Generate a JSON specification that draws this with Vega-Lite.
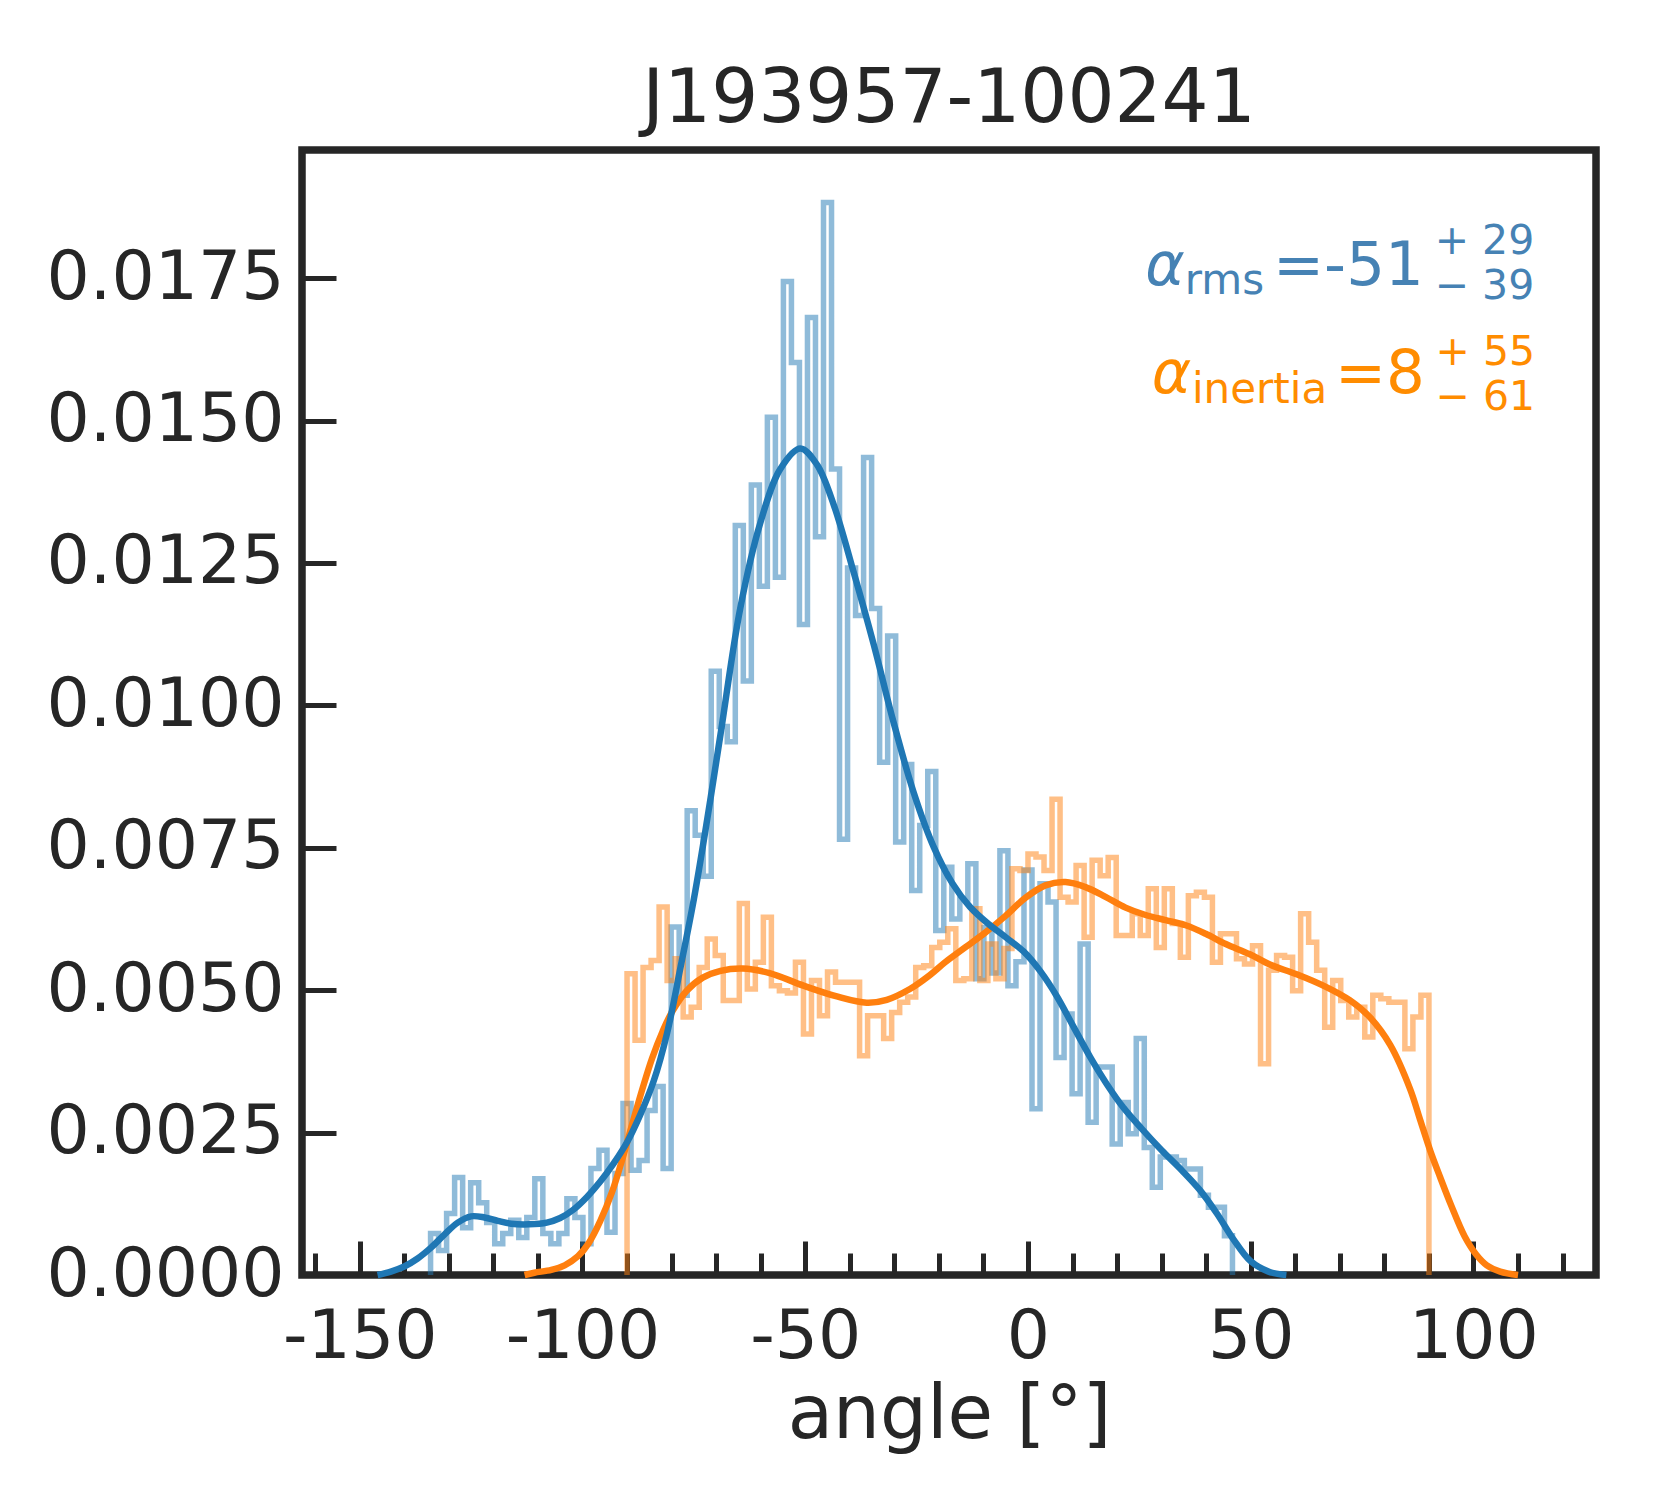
{
  "$schema": "https://vega.github.io/schema/vega-lite/v6.json",
  "width": 1294,
  "height": 1125,
  "autosize": {"type": "none"},
  "padding": {"left": 302, "top": 150, "right": 84, "bottom": 225},
  "background": "white",
  "config": {
    "font": "DejaVu Sans",
    "view": {"stroke": "#262626", "strokeWidth": 7.5}
  },
  "title": {
    "text": "J193957-100241",
    "fontSize": 74,
    "fontWeight": "normal",
    "color": "#262626",
    "anchor": "middle",
    "offset": 12
  },
  "datasets": {
    "hist": [
      {"series": "rms", "angle": -134.1, "density": 0},
      {"series": "rms", "angle": -134.1, "density": 0.00073},
      {"series": "rms", "angle": -132.3, "density": 0.00043},
      {"series": "rms", "angle": -130.5, "density": 0.00108},
      {"series": "rms", "angle": -128.7, "density": 0.00171},
      {"series": "rms", "angle": -126.9, "density": 0.00083},
      {"series": "rms", "angle": -125.1, "density": 0.00162},
      {"series": "rms", "angle": -123.3, "density": 0.00127},
      {"series": "rms", "angle": -121.5, "density": 0.00092},
      {"series": "rms", "angle": -119.7, "density": 0.00055},
      {"series": "rms", "angle": -117.9, "density": 0.00073},
      {"series": "rms", "angle": -116.1, "density": 0.00096},
      {"series": "rms", "angle": -114.3, "density": 0.00066},
      {"series": "rms", "angle": -112.5, "density": 0.00101},
      {"series": "rms", "angle": -110.7, "density": 0.00169},
      {"series": "rms", "angle": -108.9, "density": 0.00073},
      {"series": "rms", "angle": -107.1, "density": 0.00055},
      {"series": "rms", "angle": -105.3, "density": 0.00073},
      {"series": "rms", "angle": -103.5, "density": 0.00134},
      {"series": "rms", "angle": -101.7, "density": 0.00101},
      {"series": "rms", "angle": -99.9, "density": 0.00055},
      {"series": "rms", "angle": -98.1, "density": 0.00187},
      {"series": "rms", "angle": -96.3, "density": 0.00219},
      {"series": "rms", "angle": -94.5, "density": 0.00075},
      {"series": "rms", "angle": -92.7, "density": 0.00178},
      {"series": "rms", "angle": -90.9, "density": 0.00301},
      {"series": "rms", "angle": -89.1, "density": 0.00184},
      {"series": "rms", "angle": -87.3, "density": 0.00201},
      {"series": "rms", "angle": -85.5, "density": 0.00289},
      {"series": "rms", "angle": -83.7, "density": 0.00331},
      {"series": "rms", "angle": -81.9, "density": 0.00187},
      {"series": "rms", "angle": -80.1, "density": 0.00611},
      {"series": "rms", "angle": -78.3, "density": 0.00491},
      {"series": "rms", "angle": -76.5, "density": 0.00815},
      {"series": "rms", "angle": -74.7, "density": 0.00772},
      {"series": "rms", "angle": -72.9, "density": 0.00700},
      {"series": "rms", "angle": -71.1, "density": 0.01060},
      {"series": "rms", "angle": -69.3, "density": 0.00963},
      {"series": "rms", "angle": -67.5, "density": 0.00936},
      {"series": "rms", "angle": -65.7, "density": 0.01316},
      {"series": "rms", "angle": -63.9, "density": 0.01043},
      {"series": "rms", "angle": -62.1, "density": 0.01387},
      {"series": "rms", "angle": -60.3, "density": 0.01209},
      {"series": "rms", "angle": -58.5, "density": 0.01506},
      {"series": "rms", "angle": -56.7, "density": 0.01225},
      {"series": "rms", "angle": -54.9, "density": 0.01744},
      {"series": "rms", "angle": -53.1, "density": 0.01602},
      {"series": "rms", "angle": -51.3, "density": 0.01142},
      {"series": "rms", "angle": -49.5, "density": 0.01681},
      {"series": "rms", "angle": -47.7, "density": 0.01296},
      {"series": "rms", "angle": -45.9, "density": 0.01883},
      {"series": "rms", "angle": -44.1, "density": 0.01415},
      {"series": "rms", "angle": -42.3, "density": 0.00765},
      {"series": "rms", "angle": -40.5, "density": 0.01241},
      {"series": "rms", "angle": -38.7, "density": 0.01158},
      {"series": "rms", "angle": -36.9, "density": 0.01435},
      {"series": "rms", "angle": -35.1, "density": 0.01170},
      {"series": "rms", "angle": -33.3, "density": 0.00900},
      {"series": "rms", "angle": -31.5, "density": 0.01122},
      {"series": "rms", "angle": -29.7, "density": 0.00760},
      {"series": "rms", "angle": -27.9, "density": 0.00896},
      {"series": "rms", "angle": -26.1, "density": 0.00675},
      {"series": "rms", "angle": -24.3, "density": 0.00789},
      {"series": "rms", "angle": -22.5, "density": 0.00884},
      {"series": "rms", "angle": -20.7, "density": 0.00605},
      {"series": "rms", "angle": -18.9, "density": 0.00716},
      {"series": "rms", "angle": -17.1, "density": 0.00625},
      {"series": "rms", "angle": -15.3, "density": 0.00660},
      {"series": "rms", "angle": -13.5, "density": 0.00722},
      {"series": "rms", "angle": -11.7, "density": 0.00520},
      {"series": "rms", "angle": -9.9, "density": 0.00610},
      {"series": "rms", "angle": -8.1, "density": 0.00530},
      {"series": "rms", "angle": -6.3, "density": 0.00745},
      {"series": "rms", "angle": -4.5, "density": 0.00508},
      {"series": "rms", "angle": -2.7, "density": 0.00550},
      {"series": "rms", "angle": -0.9, "density": 0.00711},
      {"series": "rms", "angle": 0.9, "density": 0.00292},
      {"series": "rms", "angle": 2.7, "density": 0.00687},
      {"series": "rms", "angle": 4.5, "density": 0.00655},
      {"series": "rms", "angle": 6.3, "density": 0.00382},
      {"series": "rms", "angle": 8.1, "density": 0.00458},
      {"series": "rms", "angle": 9.9, "density": 0.00318},
      {"series": "rms", "angle": 11.7, "density": 0.00581},
      {"series": "rms", "angle": 13.5, "density": 0.00268},
      {"series": "rms", "angle": 15.3, "density": 0.00365},
      {"series": "rms", "angle": 17.1, "density": 0.00365},
      {"series": "rms", "angle": 18.9, "density": 0.00230},
      {"series": "rms", "angle": 20.7, "density": 0.00303},
      {"series": "rms", "angle": 22.5, "density": 0.00248},
      {"series": "rms", "angle": 24.3, "density": 0.00415},
      {"series": "rms", "angle": 26.1, "density": 0.00224},
      {"series": "rms", "angle": 27.9, "density": 0.00154},
      {"series": "rms", "angle": 29.7, "density": 0.00207},
      {"series": "rms", "angle": 31.5, "density": 0.00207},
      {"series": "rms", "angle": 33.3, "density": 0.00201},
      {"series": "rms", "angle": 35.1, "density": 0.00186},
      {"series": "rms", "angle": 36.9, "density": 0.00186},
      {"series": "rms", "angle": 38.7, "density": 0.00140},
      {"series": "rms", "angle": 40.5, "density": 0.00119},
      {"series": "rms", "angle": 42.3, "density": 0.00119},
      {"series": "rms", "angle": 44.1, "density": 0.00069},
      {"series": "rms", "angle": 45.9, "density": 0},
      {"series": "inertia", "angle": -90.0, "density": 0},
      {"series": "inertia", "angle": -90.0, "density": 0.00529},
      {"series": "inertia", "angle": -88.2, "density": 0.00412},
      {"series": "inertia", "angle": -86.4, "density": 0.00540},
      {"series": "inertia", "angle": -84.6, "density": 0.00552},
      {"series": "inertia", "angle": -82.8, "density": 0.00646},
      {"series": "inertia", "angle": -81.0, "density": 0.00517},
      {"series": "inertia", "angle": -79.2, "density": 0.00555},
      {"series": "inertia", "angle": -77.4, "density": 0.00453},
      {"series": "inertia", "angle": -75.6, "density": 0.00470},
      {"series": "inertia", "angle": -73.8, "density": 0.00540},
      {"series": "inertia", "angle": -72.0, "density": 0.00590},
      {"series": "inertia", "angle": -70.2, "density": 0.00561},
      {"series": "inertia", "angle": -68.4, "density": 0.00482},
      {"series": "inertia", "angle": -66.6, "density": 0.00482},
      {"series": "inertia", "angle": -64.8, "density": 0.00652},
      {"series": "inertia", "angle": -63.0, "density": 0.00502},
      {"series": "inertia", "angle": -61.2, "density": 0.00549},
      {"series": "inertia", "angle": -59.4, "density": 0.00628},
      {"series": "inertia", "angle": -57.6, "density": 0.00508},
      {"series": "inertia", "angle": -55.8, "density": 0.00499},
      {"series": "inertia", "angle": -54.0, "density": 0.00495},
      {"series": "inertia", "angle": -52.2, "density": 0.00549},
      {"series": "inertia", "angle": -50.4, "density": 0.00423},
      {"series": "inertia", "angle": -48.6, "density": 0.00517},
      {"series": "inertia", "angle": -46.8, "density": 0.00455},
      {"series": "inertia", "angle": -45.0, "density": 0.00532},
      {"series": "inertia", "angle": -43.2, "density": 0.00514},
      {"series": "inertia", "angle": -41.4, "density": 0.00514},
      {"series": "inertia", "angle": -39.6, "density": 0.00514},
      {"series": "inertia", "angle": -37.8, "density": 0.00385},
      {"series": "inertia", "angle": -36.0, "density": 0.00455},
      {"series": "inertia", "angle": -34.2, "density": 0.00455},
      {"series": "inertia", "angle": -32.4, "density": 0.00415},
      {"series": "inertia", "angle": -30.6, "density": 0.00461},
      {"series": "inertia", "angle": -28.8, "density": 0.00479},
      {"series": "inertia", "angle": -27.0, "density": 0.00488},
      {"series": "inertia", "angle": -25.2, "density": 0.00540},
      {"series": "inertia", "angle": -23.4, "density": 0.00543},
      {"series": "inertia", "angle": -21.6, "density": 0.00575},
      {"series": "inertia", "angle": -19.8, "density": 0.00584},
      {"series": "inertia", "angle": -18.0, "density": 0.00608},
      {"series": "inertia", "angle": -16.2, "density": 0.00517},
      {"series": "inertia", "angle": -14.4, "density": 0.00520},
      {"series": "inertia", "angle": -12.6, "density": 0.00643},
      {"series": "inertia", "angle": -10.8, "density": 0.00517},
      {"series": "inertia", "angle": -9.0, "density": 0.00581},
      {"series": "inertia", "angle": -7.2, "density": 0.00520},
      {"series": "inertia", "angle": -5.4, "density": 0.00573},
      {"series": "inertia", "angle": -3.6, "density": 0.00713},
      {"series": "inertia", "angle": -1.8, "density": 0.00710},
      {"series": "inertia", "angle": 0.0, "density": 0.00739},
      {"series": "inertia", "angle": 1.8, "density": 0.00734},
      {"series": "inertia", "angle": 3.6, "density": 0.00710},
      {"series": "inertia", "angle": 5.4, "density": 0.00835},
      {"series": "inertia", "angle": 7.2, "density": 0.00663},
      {"series": "inertia", "angle": 9.0, "density": 0.00655},
      {"series": "inertia", "angle": 10.8, "density": 0.00719},
      {"series": "inertia", "angle": 12.6, "density": 0.00593},
      {"series": "inertia", "angle": 14.4, "density": 0.00728},
      {"series": "inertia", "angle": 16.2, "density": 0.00701},
      {"series": "inertia", "angle": 18.0, "density": 0.00733},
      {"series": "inertia", "angle": 19.8, "density": 0.00596},
      {"series": "inertia", "angle": 21.6, "density": 0.00596},
      {"series": "inertia", "angle": 23.4, "density": 0.00634},
      {"series": "inertia", "angle": 25.2, "density": 0.00596},
      {"series": "inertia", "angle": 27.0, "density": 0.00678},
      {"series": "inertia", "angle": 28.8, "density": 0.00575},
      {"series": "inertia", "angle": 30.6, "density": 0.00678},
      {"series": "inertia", "angle": 32.4, "density": 0.00617},
      {"series": "inertia", "angle": 34.2, "density": 0.00558},
      {"series": "inertia", "angle": 36.0, "density": 0.00666},
      {"series": "inertia", "angle": 37.8, "density": 0.00672},
      {"series": "inertia", "angle": 39.6, "density": 0.00663},
      {"series": "inertia", "angle": 41.4, "density": 0.00549},
      {"series": "inertia", "angle": 43.2, "density": 0.00599},
      {"series": "inertia", "angle": 45.0, "density": 0.00599},
      {"series": "inertia", "angle": 46.8, "density": 0.00555},
      {"series": "inertia", "angle": 48.6, "density": 0.00546},
      {"series": "inertia", "angle": 50.4, "density": 0.00578},
      {"series": "inertia", "angle": 52.2, "density": 0.00371},
      {"series": "inertia", "angle": 54.0, "density": 0.00535},
      {"series": "inertia", "angle": 55.8, "density": 0.00561},
      {"series": "inertia", "angle": 57.6, "density": 0.00558},
      {"series": "inertia", "angle": 59.4, "density": 0.00499},
      {"series": "inertia", "angle": 61.2, "density": 0.00634},
      {"series": "inertia", "angle": 63.0, "density": 0.00584},
      {"series": "inertia", "angle": 64.8, "density": 0.00535},
      {"series": "inertia", "angle": 66.6, "density": 0.00435},
      {"series": "inertia", "angle": 68.4, "density": 0.00517},
      {"series": "inertia", "angle": 70.2, "density": 0.00482},
      {"series": "inertia", "angle": 72.0, "density": 0.00453},
      {"series": "inertia", "angle": 73.8, "density": 0.00470},
      {"series": "inertia", "angle": 75.6, "density": 0.00418},
      {"series": "inertia", "angle": 77.4, "density": 0.00491},
      {"series": "inertia", "angle": 79.2, "density": 0.00485},
      {"series": "inertia", "angle": 81.0, "density": 0.00479},
      {"series": "inertia", "angle": 82.8, "density": 0.00479},
      {"series": "inertia", "angle": 84.6, "density": 0.00397},
      {"series": "inertia", "angle": 86.4, "density": 0.00453},
      {"series": "inertia", "angle": 88.2, "density": 0.00491},
      {"series": "inertia", "angle": 90.0, "density": 0}
    ],
    "kde": [
      {"series": "inertia", "angle": -113, "density": 0},
      {"series": "inertia", "angle": -110.8, "density": 0.00004},
      {"series": "inertia", "angle": -107, "density": 0.00009},
      {"series": "inertia", "angle": -104, "density": 0.00017},
      {"series": "inertia", "angle": -101, "density": 0.00033},
      {"series": "inertia", "angle": -98.6, "density": 0.00056},
      {"series": "inertia", "angle": -96, "density": 0.00095},
      {"series": "inertia", "angle": -93.4, "density": 0.00145},
      {"series": "inertia", "angle": -91, "density": 0.00205},
      {"series": "inertia", "angle": -88.9, "density": 0.00263},
      {"series": "inertia", "angle": -86.5, "density": 0.00328},
      {"series": "inertia", "angle": -84.4, "density": 0.0038},
      {"series": "inertia", "angle": -82, "density": 0.00428},
      {"series": "inertia", "angle": -79.9, "density": 0.00462},
      {"series": "inertia", "angle": -76.6, "density": 0.00499},
      {"series": "inertia", "angle": -73, "density": 0.00522},
      {"series": "inertia", "angle": -69, "density": 0.00534},
      {"series": "inertia", "angle": -64, "density": 0.00538},
      {"series": "inertia", "angle": -58, "density": 0.0053},
      {"series": "inertia", "angle": -50.4, "density": 0.00508},
      {"series": "inertia", "angle": -42.9, "density": 0.00489},
      {"series": "inertia", "angle": -36.2, "density": 0.00478},
      {"series": "inertia", "angle": -31.7, "density": 0.00483},
      {"series": "inertia", "angle": -26.5, "density": 0.00502},
      {"series": "inertia", "angle": -22.1, "density": 0.00526},
      {"series": "inertia", "angle": -18.6, "density": 0.00549},
      {"series": "inertia", "angle": -14.1, "density": 0.00575},
      {"series": "inertia", "angle": -9.6, "density": 0.00601},
      {"series": "inertia", "angle": -5.1, "density": 0.0063},
      {"series": "inertia", "angle": -0.6, "density": 0.00662},
      {"series": "inertia", "angle": 3.9, "density": 0.00684},
      {"series": "inertia", "angle": 8.4, "density": 0.0069},
      {"series": "inertia", "angle": 12.9, "density": 0.00681},
      {"series": "inertia", "angle": 17.4, "density": 0.00664},
      {"series": "inertia", "angle": 21.9, "density": 0.00645},
      {"series": "inertia", "angle": 26.4, "density": 0.00632},
      {"series": "inertia", "angle": 30.9, "density": 0.00623},
      {"series": "inertia", "angle": 35.4, "density": 0.00614},
      {"series": "inertia", "angle": 39.9, "density": 0.00599},
      {"series": "inertia", "angle": 44.4, "density": 0.00581},
      {"series": "inertia", "angle": 49.8, "density": 0.00563},
      {"series": "inertia", "angle": 54.3, "density": 0.00545},
      {"series": "inertia", "angle": 60.3, "density": 0.00528},
      {"series": "inertia", "angle": 66.3, "density": 0.00508},
      {"series": "inertia", "angle": 72.3, "density": 0.00482},
      {"series": "inertia", "angle": 76.8, "density": 0.00452},
      {"series": "inertia", "angle": 81.3, "density": 0.00404},
      {"series": "inertia", "angle": 85.8, "density": 0.00326},
      {"series": "inertia", "angle": 88, "density": 0.00273},
      {"series": "inertia", "angle": 90.3, "density": 0.00218},
      {"series": "inertia", "angle": 92.5, "density": 0.00172},
      {"series": "inertia", "angle": 95, "density": 0.00122},
      {"series": "inertia", "angle": 98, "density": 0.00068},
      {"series": "inertia", "angle": 100.6, "density": 0.00036},
      {"series": "inertia", "angle": 103, "density": 0.00017},
      {"series": "inertia", "angle": 106, "density": 0.00006},
      {"series": "inertia", "angle": 110, "density": 0},
      {"series": "rms", "angle": -146, "density": 0},
      {"series": "rms", "angle": -143, "density": 0.00006},
      {"series": "rms", "angle": -140, "density": 0.00015},
      {"series": "rms", "angle": -137, "density": 0.00029},
      {"series": "rms", "angle": -134, "density": 0.00048},
      {"series": "rms", "angle": -131, "density": 0.00071},
      {"series": "rms", "angle": -128, "density": 0.00092},
      {"series": "rms", "angle": -125, "density": 0.00103},
      {"series": "rms", "angle": -122, "density": 0.00101},
      {"series": "rms", "angle": -119, "density": 0.00095},
      {"series": "rms", "angle": -116, "density": 0.0009},
      {"series": "rms", "angle": -112, "density": 0.00089},
      {"series": "rms", "angle": -108, "density": 0.00092},
      {"series": "rms", "angle": -105, "density": 0.001},
      {"series": "rms", "angle": -102, "density": 0.00115},
      {"series": "rms", "angle": -99, "density": 0.00137},
      {"series": "rms", "angle": -96, "density": 0.00164},
      {"series": "rms", "angle": -93, "density": 0.00196},
      {"series": "rms", "angle": -90, "density": 0.00233},
      {"series": "rms", "angle": -87, "density": 0.00282},
      {"series": "rms", "angle": -84, "density": 0.00341},
      {"series": "rms", "angle": -81, "density": 0.00425},
      {"series": "rms", "angle": -78, "density": 0.0054},
      {"series": "rms", "angle": -75, "density": 0.0066},
      {"series": "rms", "angle": -72, "density": 0.008},
      {"series": "rms", "angle": -69, "density": 0.0095},
      {"series": "rms", "angle": -64.6, "density": 0.0117},
      {"series": "rms", "angle": -60.1, "density": 0.0132},
      {"series": "rms", "angle": -55.6, "density": 0.01415},
      {"series": "rms", "angle": -51.1, "density": 0.01451},
      {"series": "rms", "angle": -47.4, "density": 0.01423},
      {"series": "rms", "angle": -43.6, "density": 0.01352},
      {"series": "rms", "angle": -39.1, "density": 0.01233},
      {"series": "rms", "angle": -34.6, "density": 0.01106},
      {"series": "rms", "angle": -30.2, "density": 0.00971},
      {"series": "rms", "angle": -25.7, "density": 0.00848},
      {"series": "rms", "angle": -21.2, "density": 0.00752},
      {"series": "rms", "angle": -17, "density": 0.00688},
      {"series": "rms", "angle": -13, "density": 0.00646},
      {"series": "rms", "angle": -9, "density": 0.00617},
      {"series": "rms", "angle": -5, "density": 0.00593},
      {"series": "rms", "angle": -1, "density": 0.00568},
      {"series": "rms", "angle": 2.8, "density": 0.00533},
      {"series": "rms", "angle": 6.5, "density": 0.00489},
      {"series": "rms", "angle": 10.2, "density": 0.00436},
      {"series": "rms", "angle": 14, "density": 0.00382},
      {"series": "rms", "angle": 17.7, "density": 0.00335},
      {"series": "rms", "angle": 21.4, "density": 0.00294},
      {"series": "rms", "angle": 25.5, "density": 0.00257},
      {"series": "rms", "angle": 30, "density": 0.00219},
      {"series": "rms", "angle": 34.5, "density": 0.00184},
      {"series": "rms", "angle": 38.6, "density": 0.00149},
      {"series": "rms", "angle": 42.4, "density": 0.00108},
      {"series": "rms", "angle": 46, "density": 0.00064},
      {"series": "rms", "angle": 50, "density": 0.00024},
      {"series": "rms", "angle": 54, "density": 0.00006},
      {"series": "rms", "angle": 58, "density": 0}
    ],
    "notes": [
      {"part": "alpha_rms", "label": "α"},
      {"part": "rms", "label": "rms"},
      {"part": "value_rms", "label": "=-51"},
      {"part": "plus_rms", "label": "+ 29"},
      {"part": "minus_rms", "label": "− 39"},
      {"part": "alpha_inertia", "label": "α"},
      {"part": "inertia", "label": "inertia"},
      {"part": "value_inertia", "label": "=8"},
      {"part": "plus_inertia", "label": "+ 55"},
      {"part": "minus_inertia", "label": "− 61"}
    ]
  },
  "layer": [
    {
      "encoding": {
        "x": {
          "field": "angle",
          "type": "quantitative",
          "scale": {"domain": [-162.96, 127.5], "nice": false, "zero": false},
          "axis": {
            "values": [-160, -150, -140, -130, -120, -110, -100, -90, -80, -70, -60, -50, -40, -30, -20, -10, 0, 10, 20, 30, 40, 50, 60, 70, 80, 90, 100, 110, 120],
            "tickSize": {"condition": {"test": "datum.value % 50 === 0", "value": -34}, "value": -22},
            "tickWidth": 5,
            "tickColor": "#262626",
            "labelExpr": "datum.value % 50 === 0 ? toString(datum.value) : ''",
            "labelFontSize": 68,
            "labelColor": "#262626",
            "labelPadding": 62,
            "labelFlush": false,
            "labelOverlap": false,
            "labelBound": false,
            "labelLimit": 0,
            "domain": false,
            "grid": false,
            "title": "angle [°]",
            "titleFontSize": 74,
            "titleFontWeight": "normal",
            "titleColor": "#262626",
            "titlePadding": -4
          }
        },
        "y": {
          "field": "density",
          "type": "quantitative",
          "scale": {"domain": [0, 0.01975], "nice": false},
          "axis": {
            "values": [0, 0.0025, 0.005, 0.0075, 0.01, 0.0125, 0.015, 0.0175],
            "format": ".4f",
            "tickSize": -34,
            "tickWidth": 5,
            "tickColor": "#262626",
            "labelFontSize": 68,
            "labelColor": "#262626",
            "labelPadding": 52,
            "labelLimit": 0,
            "labelFlush": false,
            "labelOverlap": false,
            "domain": false,
            "grid": false,
            "title": null
          }
        },
        "color": {
          "field": "series",
          "type": "nominal",
          "scale": {"domain": ["rms", "inertia"], "range": ["#1f77b4", "#ff7f0e"]},
          "legend": null
        }
      },
      "layer": [
        {
          "data": {"name": "hist"},
          "mark": {"type": "line", "interpolate": "step-after", "strokeWidth": 5.5, "opacity": 0.5}
        },
        {
          "data": {"name": "kde"},
          "mark": {"type": "line", "interpolate": "catmull-rom", "strokeWidth": 6.5}
        }
      ]
    },
    {
      "data": {"name": "notes"},
      "transform": [{"filter": "datum.part === 'alpha_rms'"}],
      "mark": {"type": "text", "fontSize": 60, "fontStyle": "italic", "align": "left", "baseline": "alphabetic", "color": "#4682b4"},
      "encoding": {"x": {"datum": 26.3}, "y": {"datum": 0.01738}, "text": {"field": "label"}}
    },
    {
      "data": {"name": "notes"},
      "transform": [{"filter": "datum.part === 'rms'"}],
      "mark": {"type": "text", "fontSize": 42, "align": "left", "baseline": "alphabetic", "color": "#4682b4"},
      "encoding": {"x": {"datum": 35.2}, "y": {"datum": 0.01722}, "text": {"field": "label"}}
    },
    {
      "data": {"name": "notes"},
      "transform": [{"filter": "datum.part === 'value_rms'"}],
      "mark": {"type": "text", "fontSize": 61, "align": "left", "baseline": "alphabetic", "color": "#4682b4"},
      "encoding": {"x": {"datum": 55.0}, "y": {"datum": 0.01738}, "text": {"field": "label"}}
    },
    {
      "data": {"name": "notes"},
      "transform": [{"filter": "datum.part === 'plus_rms'"}],
      "mark": {"type": "text", "fontSize": 41, "align": "left", "baseline": "alphabetic", "color": "#4682b4"},
      "encoding": {"x": {"datum": 91.3}, "y": {"datum": 0.01792}, "text": {"field": "label"}}
    },
    {
      "data": {"name": "notes"},
      "transform": [{"filter": "datum.part === 'minus_rms'"}],
      "mark": {"type": "text", "fontSize": 41, "align": "left", "baseline": "alphabetic", "color": "#4682b4"},
      "encoding": {"x": {"datum": 91.3}, "y": {"datum": 0.01714}, "text": {"field": "label"}}
    },
    {
      "data": {"name": "notes"},
      "transform": [{"filter": "datum.part === 'alpha_inertia'"}],
      "mark": {"type": "text", "fontSize": 60, "fontStyle": "italic", "align": "left", "baseline": "alphabetic", "color": "#ff8c00"},
      "encoding": {"x": {"datum": 27.8}, "y": {"datum": 0.01548}, "text": {"field": "label"}}
    },
    {
      "data": {"name": "notes"},
      "transform": [{"filter": "datum.part === 'inertia'"}],
      "mark": {"type": "text", "fontSize": 42, "align": "left", "baseline": "alphabetic", "color": "#ff8c00"},
      "encoding": {"x": {"datum": 36.8}, "y": {"datum": 0.0153}, "text": {"field": "label"}}
    },
    {
      "data": {"name": "notes"},
      "transform": [{"filter": "datum.part === 'value_inertia'"}],
      "mark": {"type": "text", "fontSize": 61, "align": "left", "baseline": "alphabetic", "color": "#ff8c00"},
      "encoding": {"x": {"datum": 68.9}, "y": {"datum": 0.01548}, "text": {"field": "label"}}
    },
    {
      "data": {"name": "notes"},
      "transform": [{"filter": "datum.part === 'plus_inertia'"}],
      "mark": {"type": "text", "fontSize": 41, "align": "left", "baseline": "alphabetic", "color": "#ff8c00"},
      "encoding": {"x": {"datum": 91.5}, "y": {"datum": 0.01597}, "text": {"field": "label"}}
    },
    {
      "data": {"name": "notes"},
      "transform": [{"filter": "datum.part === 'minus_inertia'"}],
      "mark": {"type": "text", "fontSize": 41, "align": "left", "baseline": "alphabetic", "color": "#ff8c00"},
      "encoding": {"x": {"datum": 91.5}, "y": {"datum": 0.01518}, "text": {"field": "label"}}
    }
  ]
}
